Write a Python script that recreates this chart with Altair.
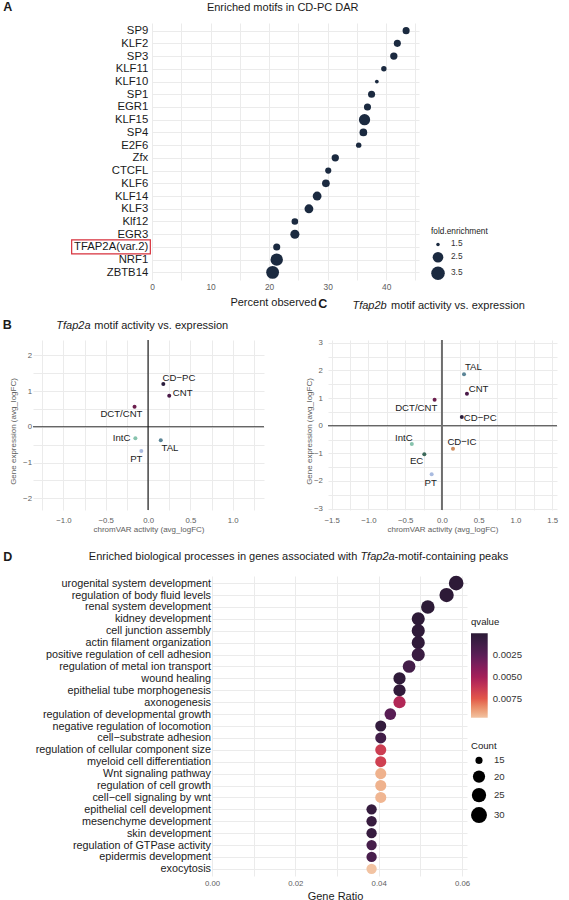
import math

import altair as alt
import pandas as pd

FONT = "Liberation Sans"
INK = "#1a1a1a"
GREY = "#5e5e5e"
GRID = "#ebebeb"
NAVY = "#1b2a40"

# ---------------- A: motifs enriched in CD-PC DAR ----------------
motifs = ["SP9", "KLF2", "SP3", "KLF11", "KLF10", "SP1", "EGR1", "KLF15", "SP4", "E2F6",
          "Zfx", "CTCFL", "KLF6", "KLF14", "KLF3", "Klf12", "EGR3", "TFAP2A(var.2)", "NRF1", "ZBTB14"]
percent_observed = [43.4, 41.9, 41.3, 39.6, 38.4, 37.5, 36.8, 36.3, 36.1, 35.3,
                    31.3, 30.1, 29.7, 28.2, 26.8, 24.4, 24.4, 21.3, 21.3, 20.6]
fold_enrichment = [1.75, 1.75, 1.79, 1.61, 1.51, 1.75, 1.75, 2.68, 1.85, 1.61,
                   1.79, 1.67, 1.85, 2.06, 2.06, 1.71, 2.12, 1.75, 3.06, 3.22]
fold_breaks = [1.5, 2.5, 3.5]
highlighted_motif = "TFAP2A(var.2)"

# ---------------- B / C: motif activity vs. expression ----------------
b_cells = ["CD−PC", "CNT", "DCT/CNT", "IntC", "TAL", "PT"]
b_activity = [0.18, 0.25, -0.16, -0.15, 0.15, -0.08]
b_expression = [1.20, 0.87, 0.56, -0.32, -0.38, -0.68]

c_cells = ["TAL", "CNT", "DCT/CNT", "CD−PC", "IntC", "CD−IC", "EC", "PT"]
c_activity = [0.30, 0.34, -0.10, 0.27, -0.41, 0.15, -0.24, -0.14]
c_expression = [1.86, 1.16, 0.94, 0.31, -0.66, -0.83, -1.03, -1.76]

cell_colors = {"CD−PC": "#2a1d3d", "CNT": "#4a1a48", "DCT/CNT": "#6c1f4e", "IntC": "#87c3ad",
               "TAL": "#5b8597", "PT": "#a9bbe0", "EC": "#3c695a", "CD−IC": "#cf8d5d"}

# label nudges (data units) keeping text clear of the points
b_nudge = {"CD−PC": (0.185, 0.18), "CNT": (0.159, 0.09), "DCT/CNT": (-0.155, -0.21),
           "IntC": (-0.164, 0.0), "TAL": (0.109, -0.20), "PT": (-0.059, -0.21)}
c_nudge = {"TAL": (0.127, 0.27), "CNT": (0.158, 0.18), "DCT/CNT": (-0.25, -0.31),
           "CD−PC": (0.25, -0.02), "IntC": (-0.108, 0.20), "CD−IC": (0.122, 0.23),
           "EC": (-0.105, -0.25), "PT": (-0.014, -0.31)}

# ---------------- D: GO biological processes ----------------
go_terms = ["urogenital system development", "regulation of body fluid levels",
            "renal system development", "kidney development", "cell junction assembly",
            "actin filament organization", "positive regulation of cell adhesion",
            "regulation of metal ion transport", "wound healing", "epithelial tube morphogenesis",
            "axonogenesis", "regulation of developmental growth",
            "negative regulation of locomotion", "cell−substrate adhesion",
            "regulation of cellular component size", "myeloid cell differentiation",
            "Wnt signaling pathway", "regulation of cell growth", "cell−cell signaling by wnt",
            "epithelial cell development", "mesenchyme development", "skin development",
            "regulation of GTPase activity", "epidermis development", "exocytosis"]
gene_ratio = [0.0586, 0.0563, 0.0518, 0.0495, 0.0495, 0.0495, 0.0495, 0.0473, 0.0450, 0.0450,
              0.0450, 0.0428, 0.0405, 0.0405, 0.0405, 0.0405, 0.0405, 0.0405, 0.0405,
              0.0383, 0.0383, 0.0383, 0.0383, 0.0383, 0.0383]
gene_count = [26, 25, 23, 22, 22, 22, 22, 21, 20, 20, 20, 19, 18, 18, 18, 18, 18, 18, 18,
              17, 17, 17, 17, 17, 17]
q_value = [0.00010, 0.00012, 0.00015, 0.00020, 0.00025, 0.00030, 0.00090, 0.00140, 0.00030,
           0.00040, 0.00550, 0.00240, 0.00050, 0.00130, 0.00650, 0.00660, 0.00930, 0.00930,
           0.00940, 0.00060, 0.00070, 0.00070, 0.00150, 0.00160, 0.00970]
count_breaks = [15, 20, 25, 30]
q_breaks = [0.0025, 0.005, 0.0075]


def area(d):
    return math.pi * d * d / 4.0


# size scales: diameter grows with the square root of the rescaled value
A_KNOTS = [1.5, 1.75, 2.0, 2.5, 3.0, 3.5, 4.0]
A_AREAS = [area(4 + 8 * math.sqrt(v - 1.5)) for v in A_KNOTS]
D_KNOTS = [15, 16, 17, 18, 20, 22, 25, 30]
D_AREAS = [area(8 + 10 * math.sqrt((v - 15) / 15)) for v in D_KNOTS]

# rocket-like ramp, low q dark
Q_DOMAIN = [0.0097, 0.0075, 0.005, 0.0025, 0.0]
Q_RANGE = ["#f2c3a2", "#e2574a", "#a41f58", "#5b1e56", "#2b1a35"]

BOX_PATH = "M-2.81,-0.5H2.81V0.5H-2.81Z"


def blank():
    return alt.Data(values=[{}])


def text(txt, x, y, size=11.0, weight="normal", style="normal", align="left", color=INK):
    return alt.Chart(blank()).mark_text(
        font=FONT, fontSize=size, fontWeight=weight, fontStyle=style,
        align=align, baseline="alphabetic", color=color,
    ).encode(x=alt.value(x), y=alt.value(y), text=alt.value(txt))


def frame(x0, x1, y0, y1):
    return alt.Chart(blank()).mark_rect(opacity=0).encode(
        x=alt.value(x0), x2=alt.value(x1), y=alt.value(y0), y2=alt.value(y1))


def spacer(w):
    return alt.Chart(blank()).mark_point(opacity=0).encode(
        x=alt.value(0), y=alt.value(0)).properties(width=w, height=1)


# ======================= panel A =======================
A_W, A_H = 267, 257
a_df = pd.DataFrame({"motif": motifs, "percent": percent_observed, "fold": fold_enrichment})

a_x = alt.X("percent:Q", scale=alt.Scale(domain=[0, 45.6], nice=False, zero=False),
            axis=alt.Axis(title=None, values=list(range(0, 50, 5)),
                          labelExpr="datum.value % 10 === 0 ? format(datum.value, 'd') : ''",
                          labelFontSize=8.4, labelColor=GREY, labelPadding=9.3,
                          labelBaseline="alphabetic", labelFlush=False, labelOverlap=False))
a_y = alt.Y("motif:N", sort=motifs, scale=alt.Scale(type="point", padding=0.6),
            axis=alt.Axis(title=None, labelFontSize=11.3, labelColor=INK, labelPadding=4.3,
                          labelOverlap=False))

a_points = alt.Chart(a_df).mark_circle(color=NAVY, opacity=1).encode(
    x=a_x, y=a_y,
    size=alt.Size("fold:Q", scale=alt.Scale(domain=A_KNOTS, range=A_AREAS, zero=False, nice=False),
                  legend=alt.Legend(title="fold.enrichment", values=fold_breaks, orient="none",
                                    legendX=279, legendY=204, padding=0,
                                    titleFontSize=8.3, titleFontWeight="normal", titleColor=INK,
                                    labelFontSize=8.3, labelColor="#333333",
                                    titlePadding=5, rowPadding=3.5, labelOffset=6,
                                    symbolStrokeWidth=0)),
)
a_box = alt.Chart(pd.DataFrame({"motif": [highlighted_motif]})).mark_point(
    shape=BOX_PATH, size=784, filled=False, color="#d7313c", strokeWidth=1.2, opacity=1,
).encode(x=alt.value(-41), y=a_y)

panel_a = alt.layer(
    frame(-152, 417, -23, 269),
    a_points, a_box,
    text("A", -148.7, -12.3, size=12.5, weight="bold"),
    text("Enriched motifs in CD-PC DAR", 130.7, -12, align="center"),
).properties(width=A_W, height=A_H)


# ======================= panels B and C =======================
def scatter_panel(cells, activity, expression, nudges, xdom, ydom, xticks, yticks,
                  width, height, ylab_pad, ytitle_x, vline_color, vline_width, extra):
    df = pd.DataFrame({"cell": cells, "activity": activity, "expression": expression})
    df["lx"] = [a + nudges[c][0] for a, c in zip(activity, cells)]
    df["ly"] = [e + nudges[c][1] for e, c in zip(expression, cells)]

    x_scale = alt.Scale(domain=xdom, nice=False, zero=False)
    y_scale = alt.Scale(domain=ydom, nice=False, zero=False)
    x_axis = alt.Axis(title="chromVAR activity (avg_logFC)", values=xticks,
                      labelExpr="(datum.value * 2) % 1 === 0 ? format(datum.value, '.1f') : ''",
                      labelFontSize=7.8, labelColor=GREY, labelPadding=12.7,
                      labelBaseline="alphabetic", labelFlush=False, labelOverlap=False,
                      titleFontSize=8, titleColor=GREY, titleFontWeight="normal",
                      titleBaseline="alphabetic", titleY=21.5)
    y_axis = alt.Axis(title="Gene expression (avg_logFC)", values=yticks,
                      labelExpr="datum.value % 1 === 0 ? format(datum.value, 'd') : ''",
                      labelFontSize=7.8, labelColor=GREY, labelPadding=ylab_pad,
                      labelFlush=False, labelOverlap=False,
                      titleFontSize=8, titleColor=GREY, titleFontWeight="normal",
                      titleX=ytitle_x, titleY=91, titleBaseline="middle")
    color = alt.Color("cell:N", scale=alt.Scale(domain=list(cell_colors),
                                                range=list(cell_colors.values())), legend=None)

    hline = alt.Chart(blank()).mark_rule(color="#333333", strokeWidth=1.1).encode(
        y=alt.Y(datum=0, scale=y_scale, axis=y_axis))
    vline = alt.Chart(blank()).mark_rule(color=vline_color, strokeWidth=vline_width).encode(
        x=alt.X(datum=0, scale=x_scale, axis=x_axis))
    pts = alt.Chart(df).mark_circle(size=16, opacity=1).encode(
        x=alt.X("activity:Q", scale=x_scale, axis=x_axis),
        y=alt.Y("expression:Q", scale=y_scale, axis=y_axis), color=color)
    labels = alt.Chart(df).mark_text(font=FONT, fontSize=9.6, color=INK, align="center",
                                     baseline="middle").encode(
        x=alt.X("lx:Q", scale=x_scale, axis=x_axis),
        y=alt.Y("ly:Q", scale=y_scale, axis=y_axis), text="cell:N")
    return alt.layer(hline, vline, pts, labels, *extra).properties(width=width, height=height)


b_xticks = [-1.25, -1.0, -0.75, -0.5, -0.25, 0.0, 0.25, 0.5, 0.75, 1.0, 1.25]
b_yticks = [-2.0, -1.5, -1.0, -0.5, 0.0, 0.5, 1.0, 1.5, 2.0]
c_xticks = [-1.5, -1.25, -1.0, -0.75, -0.5, -0.25, 0.0, 0.25, 0.5, 0.75, 1.0, 1.25, 1.5]
c_yticks = [-3.0, -2.5, -2.0, -1.5, -1.0, -0.5, 0.0, 0.5, 1.0, 1.5, 2.0, 2.5, 3.0]

panel_b = scatter_panel(
    b_cells, b_activity, b_expression, b_nudge, [-1.36, 1.37], [-2.33, 2.43],
    b_xticks, b_yticks, 231, 170, 1.5, -20, "#1a1a1a", 1.2,
    [frame(-33, 536, -48, 205),
     text("Percent observed", 240.5, -34.5, align="center"),
     text("B", -30.3, -10.7, size=12.5, weight="bold"),
     text("Tfap2a", 57.5, -10.7, style="italic", align="right"),
     text("motif activity vs. expression", 61.3, -10.7)],
)
panel_c = scatter_panel(
    c_cells, c_activity, c_expression, c_nudge, [-1.55, 1.565], [-3.05, 3.1],
    c_xticks, c_yticks, 229, 170, 5.7, -19, "#6e6e6e", 2.0,
    [text("C", -9.8, -31.7, size=12.5, weight="bold"),
     text("Tfap2b", 58.7, -31.3, style="italic", align="right"),
     text("motif activity vs. expression", 63, -31.3)],
)

# ======================= panel D =======================
D_W, D_H = 255, 300
d_df = pd.DataFrame({"term": go_terms, "ratio": gene_ratio, "count": gene_count, "q": q_value})

d_points = alt.Chart(d_df).mark_circle(opacity=1).encode(
    x=alt.X("ratio:Q", scale=alt.Scale(domain=[0, 0.0612], nice=False, zero=False),
            axis=alt.Axis(title="Gene Ratio", values=[0, 0.01, 0.02, 0.03, 0.04, 0.05, 0.06],
                          labelExpr="round(datum.value * 100) % 2 === 0 ? format(datum.value, '.2f') : ''",
                          labelFontSize=7.8, labelColor=GREY, labelPadding=9.7,
                          labelBaseline="alphabetic", labelFlush=False, labelOverlap=False,
                          titleFontSize=11, titleColor=INK, titleFontWeight="normal",
                          titleBaseline="alphabetic", titleX=123, titleY=23)),
    y=alt.Y("term:N", sort=go_terms, scale=alt.Scale(type="point", padding=0.6),
            axis=alt.Axis(title=None, labelFontSize=10.8, labelColor=INK, labelPadding=1.5,
                          labelOverlap=False)),
    color=alt.Color("q:Q", scale=alt.Scale(domain=Q_DOMAIN, range=Q_RANGE, nice=False, zero=False),
                    legend=alt.Legend(title="qvalue", values=q_breaks, format=".4f", orient="none",
                                      legendX=259, legendY=41, padding=0, direction="vertical",
                                      gradientLength=84.4, gradientThickness=16.7,
                                      gradientStrokeWidth=0, titleFontSize=9.6,
                                      titleFontWeight="normal", titleColor=INK, titlePadding=6.7,
                                      labelFontSize=9.6, labelColor="#333333", labelOffset=5)),
    size=alt.Size("count:Q", scale=alt.Scale(domain=D_KNOTS, range=D_AREAS, zero=False, nice=False),
                  legend=alt.Legend(title="Count", values=count_breaks, orient="none",
                                    legendX=259, legendY=165, padding=0, titleFontSize=9.6,
                                    titleFontWeight="normal", titleColor=INK, titlePadding=5,
                                    labelFontSize=9.6, labelColor="#333333", rowPadding=4.5,
                                    labelOffset=7, symbolFillColor="black", symbolStrokeWidth=0)),
)

panel_d = alt.layer(
    frame(-212, 357, -31, 324),
    d_points,
    text("D", -208.7, -15, size=12.5, weight="bold"),
    text("Enriched biological processes in genes associated with", 145.3, -16, align="right"),
    text("Tfap2a", 165.5, -16, style="italic", align="center"),
    text("-motif-containing peaks", 182.6, -16),
).properties(width=D_W, height=D_H)

# ======================= assembly =======================
indep = dict(x="independent", y="independent", color="independent", size="independent")
row_a = alt.hconcat(spacer(119), panel_a, spacing=0, bounds="flush").resolve_scale(**indep)
row_bc = alt.hconcat(panel_b, panel_c, spacing=64, bounds="flush").resolve_scale(**indep)
row_d = alt.hconcat(spacer(179), panel_d, spacing=0, bounds="flush").resolve_scale(**indep)

chart = alt.vconcat(row_a, row_bc, row_d, spacing=0, bounds="full").resolve_scale(**indep).properties(
    padding=0
).configure(font=FONT).configure_view(stroke=None).configure_axis(
    domain=False, ticks=False, tickSize=0, grid=True, gridColor=GRID, gridWidth=1,
    labelFont=FONT, titleFont=FONT,
).configure_legend(titleFont=FONT, labelFont=FONT)

chart.save("out.html", embed_options={"renderer": "svg", "actions": False})
